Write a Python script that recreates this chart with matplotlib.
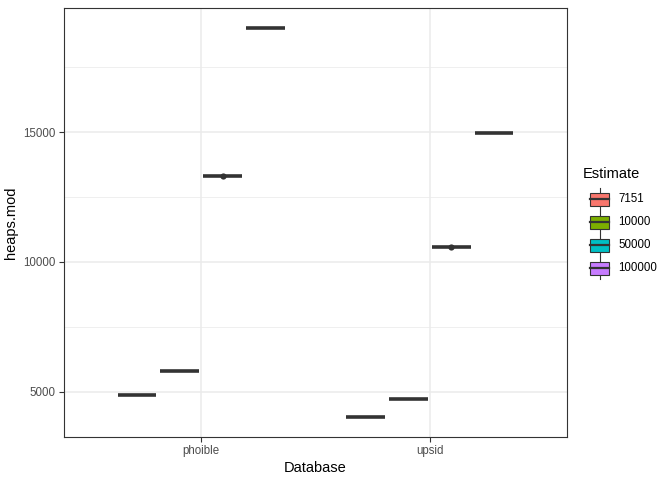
import matplotlib
matplotlib.use("Agg")
import matplotlib.pyplot as plt
from matplotlib.patches import Rectangle
import numpy as np

plt.rcParams['font.family'] = ['Liberation Sans', 'DejaVu Sans']

databases = ["phoible", "upsid"]
estimates = ["7151", "10000", "50000", "100000"]
colors = ["#F8766D", "#7CAE00", "#00BFC4", "#C77CFF"]
# median heaps.mod values per database, per estimate
phoible_vals = [4880, 5790, 13300, 19030]
upsid_vals = [4000, 4730, 10580, 14960]
# outliers (shown as points) per estimate index
phoible_outliers = {2: [13310]}
upsid_outliers = {2: [10590]}

fig = plt.figure(figsize=(6.72, 4.8), dpi=100)
ax = fig.add_axes([64/672, 1-437/480, (567-64)/672, (437-8)/480])

dodge = 0.75
n = len(estimates)
bw = dodge / n * 0.9
grid_c = "#EBEBEB"
dark = "#333333"

ax.set_xlim(0.4, 2.6)
ax.set_ylim(3248, 19790)

for y in [7500, 12500, 17500]:
    ax.axhline(y, color=grid_c, lw=0.55, zorder=0)
for y in [5000, 10000, 15000]:
    ax.axhline(y, color=grid_c, lw=1.1, zorder=0)
for x in [1, 2]:
    ax.axvline(x, color=grid_c, lw=1.1, zorder=0)

for di, (vals, outs) in enumerate([(phoible_vals, phoible_outliers), (upsid_vals, upsid_outliers)]):
    xc = di + 1
    for ei, v in enumerate(vals):
        off = -dodge/2 + dodge/n*(ei+0.5)
        cx = xc + off
        ax.hlines(v, cx - bw/2, cx + bw/2, color=dark, lw=2.6, zorder=3, capstyle='butt')
        for o in outs.get(ei, []):
            ax.scatter([cx], [o], s=20, color=dark, zorder=4, linewidths=0)

ax.set_xticks([1, 2])
ax.set_xticklabels(databases)
ax.set_yticks([5000, 10000, 15000])
ax.set_yticklabels(["5000", "10000", "15000"])
ax.tick_params(axis='both', colors="#333333", labelcolor="#4D4D4D", labelsize=8.3, length=3.5, width=0.8, pad=2.5)
for s in ax.spines.values():
    s.set_color("#333333")
    s.set_linewidth(0.8)
ax.set_xlabel("Database", fontsize=10.5, labelpad=3)
ax.set_ylabel("heaps.mod", fontsize=10.5, labelpad=4)

# legend
fig.text(583/672, 1-174/480, "Estimate", fontsize=10.5, va='center', ha='left')
key_y = [199, 222, 245, 268]
for i, (lab, c) in enumerate(zip(estimates, colors)):
    yc = key_y[i]
    x0, x1 = 590, 609
    h = 13
    fig.add_artist(plt.Line2D([(x0+x1)/2/672]*2, [1-(yc-11)/480, 1-(yc+11)/480], color=dark, lw=0.8))
    fig.add_artist(Rectangle((x0/672, 1-(yc+h/2)/480), (x1-x0)/672, h/480, facecolor=c, edgecolor=dark, lw=0.8, zorder=3))
    fig.add_artist(plt.Line2D([x0/672, x1/672], [1-yc/480]*2, color=dark, lw=1.6, zorder=4))
    fig.text(618/672, 1-yc/480, lab, fontsize=8.3, va='center', ha='left', color="#000000")

fig.savefig("out.png", dpi=100)
